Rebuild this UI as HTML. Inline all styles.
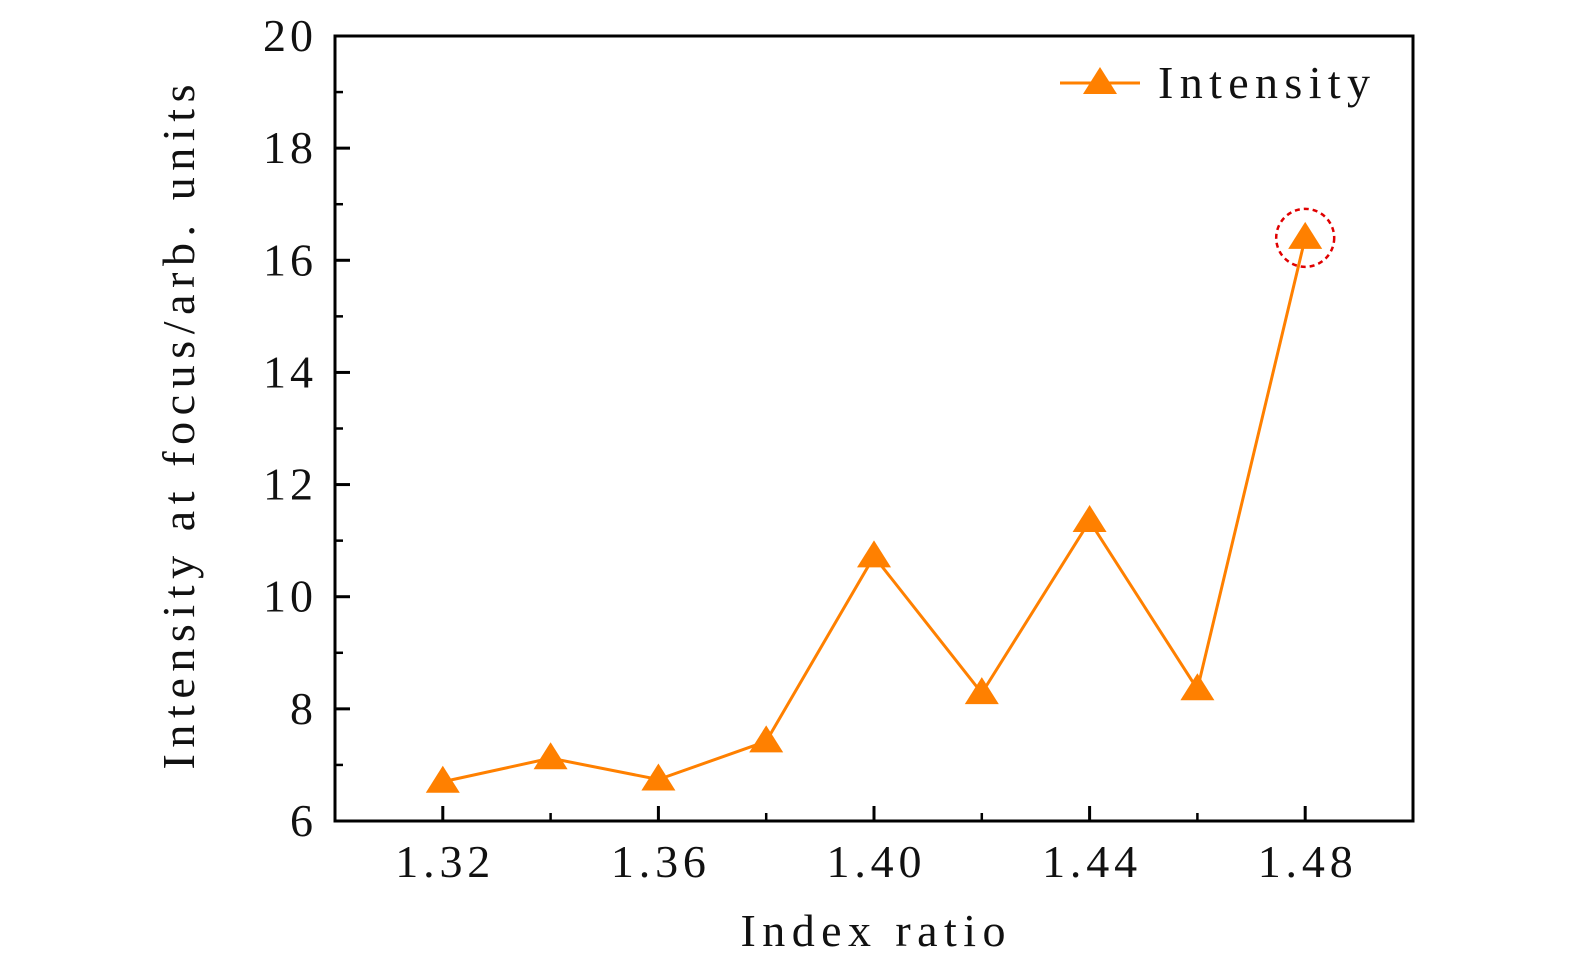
<!DOCTYPE html>
<html><head><meta charset="utf-8"><style>
body{margin:0;background:#fff;width:1575px;height:974px;overflow:hidden}
text{font-family:"Liberation Serif",serif;fill:#111}
</style></head><body>
<svg id="chart" width="1575" height="974" xmlns="http://www.w3.org/2000/svg"></svg>
<script>
const categories=[1.32,1.34,1.36,1.38,1.40,1.42,1.44,1.46,1.48];
const intensity=[6.7,7.12,6.74,7.42,10.72,8.28,11.35,8.35,16.4];
const yTicks=[6,8,10,12,14,16,18,20];
const xTicks=["1.32","1.36","1.40","1.44","1.48"];
const L=335,R=1413,T=36,B=821;
const xs=v=>L+(v-1.30)/0.20*(R-L);
const ys=v=>B-(v-6)/14*(B-T);
const svg=document.getElementById('chart');
const NS="http://www.w3.org/2000/svg";
function mk(tag,attrs,parent){const e=document.createElementNS(NS,tag);for(const k in attrs)e.setAttribute(k,attrs[k]);(parent||svg).appendChild(e);return e;}
const frame=mk('rect',{x:L,y:T,width:R-L,height:B-T,fill:'none',stroke:'#000','stroke-width':3});


yTicks.forEach((v,i)=>{
  const y=ys(v);
  const t=mk('line',{x1:L,x2:L+15,y1:y,y2:y,stroke:'#000','stroke-width':3});
  
  
  if(i<yTicks.length-1){const m=mk('line',{x1:L,x2:L+8,y1:ys(v+1),y2:ys(v+1),stroke:'#000','stroke-width':2.5});
  
  }
  const s=String(v);
  const tx=mk('text',{x:L-22,y:y+15,'text-anchor':'end','font-size':46,textLength:s.length*25,lengthAdjust:'spacing'});tx.textContent=s;
  
  
});
xTicks.forEach((s,i)=>{
  const x=xs(parseFloat(s));
  const t=mk('line',{x1:x,x2:x,y1:B,y2:B-15,stroke:'#000','stroke-width':3});
  
  
  if(i<xTicks.length-1){const mx=xs(parseFloat(s)+0.02);const m=mk('line',{x1:mx,x2:mx,y1:B,y2:B-8,stroke:'#000','stroke-width':2.5});
  
  }
  const tx=mk('text',{x:x,y:B+56,'text-anchor':'middle','font-size':46,textLength:95,lengthAdjust:'spacing'});tx.textContent=s;
  
  
});
const xt=mk('text',{x:(L+R)/2-1,y:946,'text-anchor':'middle','font-size':46,textLength:265,lengthAdjust:'spacing'});xt.textContent='Index ratio';


const yt=mk('text',{x:0,y:0,'text-anchor':'middle','font-size':46,textLength:685,lengthAdjust:'spacing',transform:`translate(194,427) rotate(-90)`});yt.textContent='Intensity at focus/arb. units';


const pts=categories.map((c,i)=>xs(c)+','+ys(intensity[i])).join(' ');
const line=mk('polyline',{points:pts,fill:'none',stroke:'#ff8000','stroke-width':3});


function tri(x,y){return `${x},${y-16} ${x-17},${y+11} ${x+17},${y+11}`;}
categories.forEach((c,i)=>{
  const p=mk('polygon',{points:tri(xs(c),ys(intensity[i])),fill:'#ff8000'});
  
  
});
const last=categories.length-1;
const circ=mk('circle',{cx:xs(categories[last]),cy:ys(intensity[last]),r:29,fill:'none',stroke:'#e00000','stroke-width':2.5,'stroke-dasharray':'5,4'});


const lg=mk('g',{});


mk('line',{x1:1060,x2:1140,y1:83,y2:83,stroke:'#ff8000','stroke-width':3},lg);
mk('polygon',{points:tri(1100,83),fill:'#ff8000'},lg);
const lt=mk('text',{x:1158,y:98,'font-size':46,textLength:212,lengthAdjust:'spacing'},lg);lt.textContent='Intensity';
</script>
</body></html>
